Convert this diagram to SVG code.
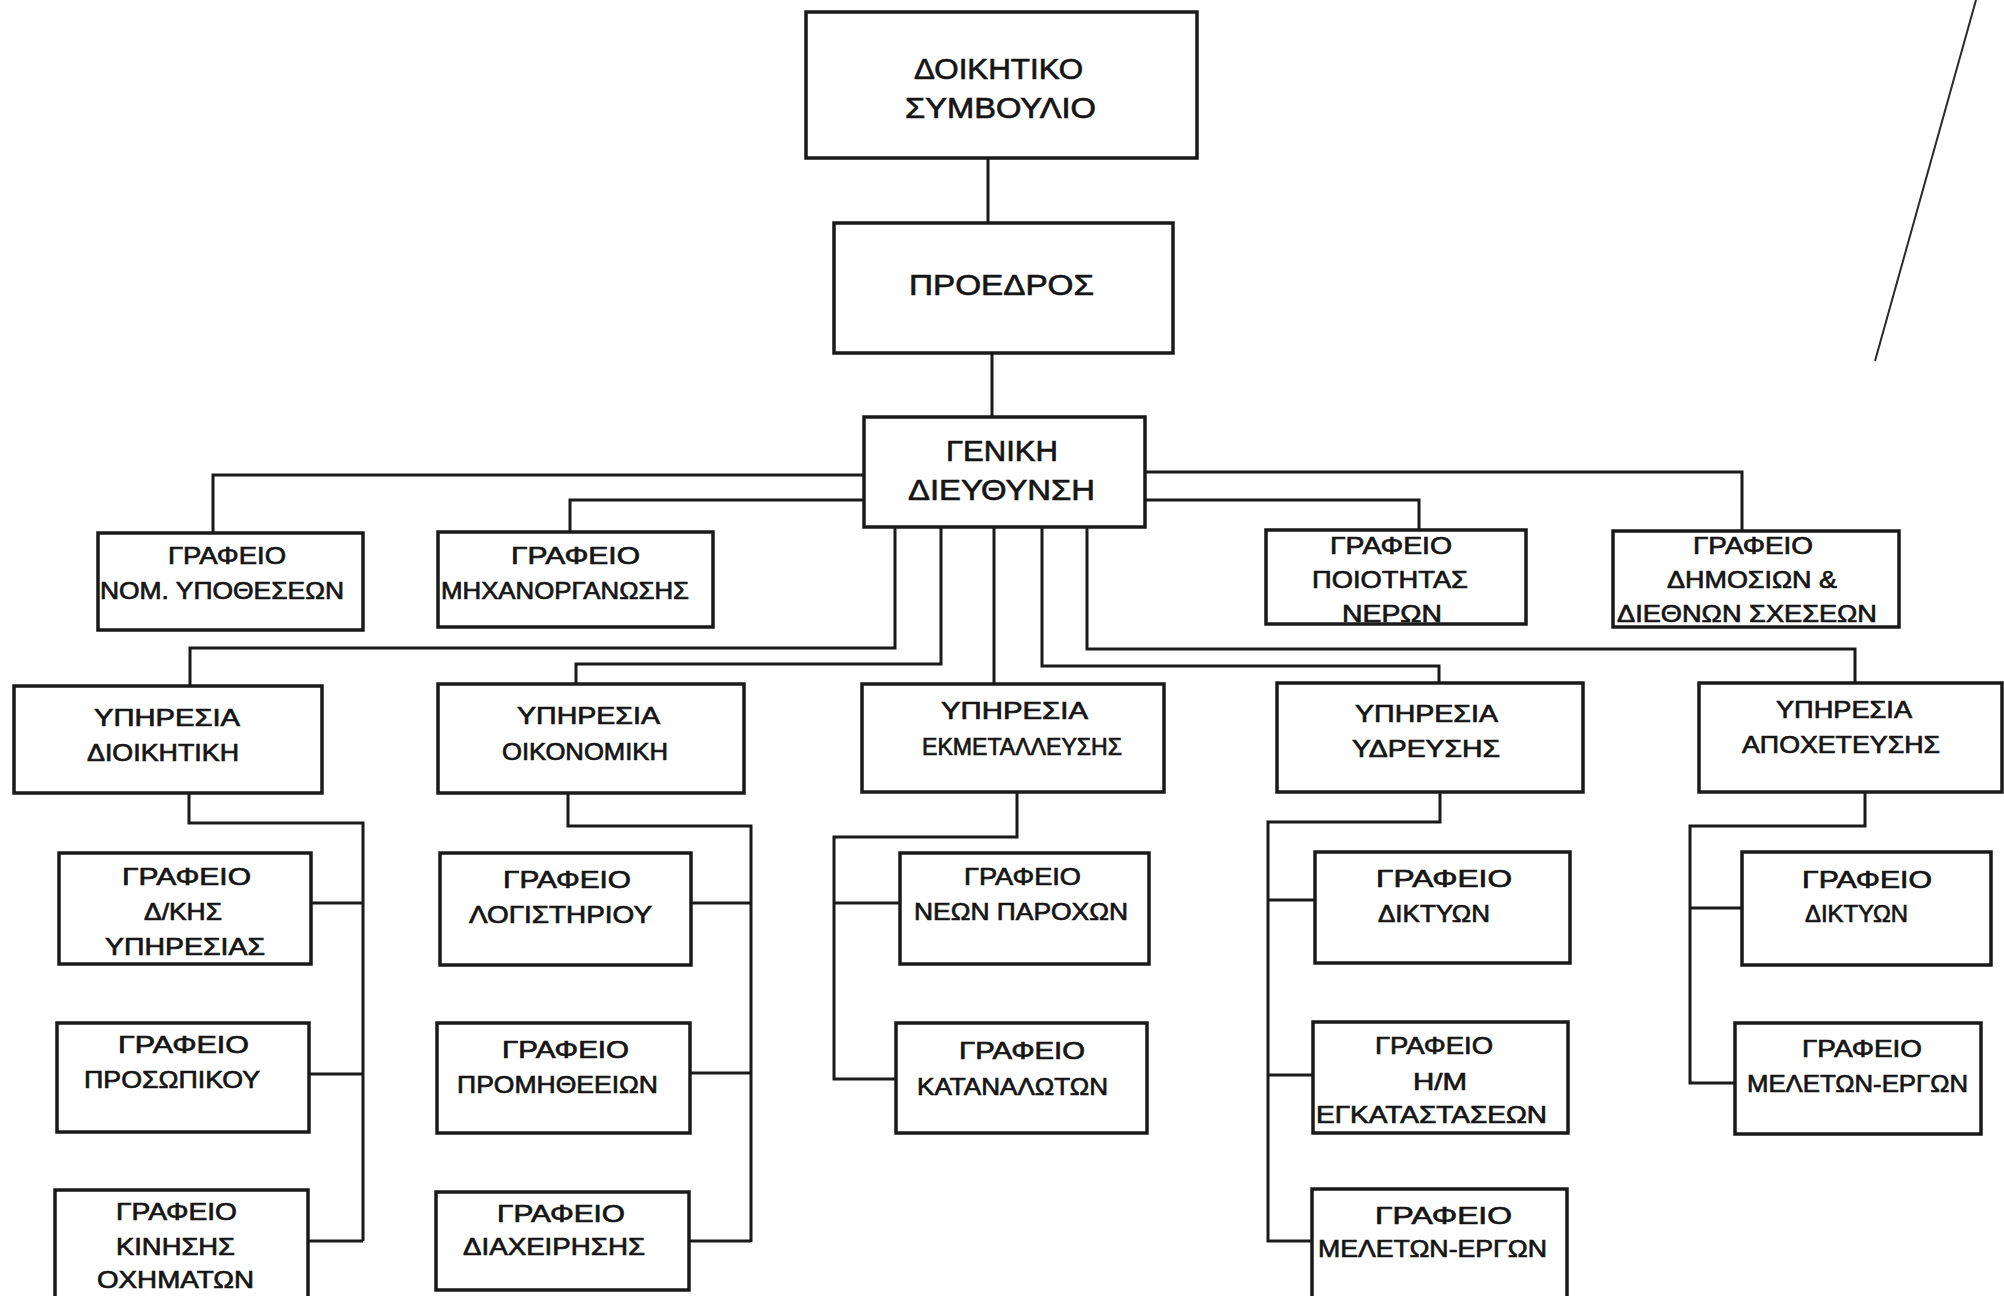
<svg xmlns="http://www.w3.org/2000/svg" width="2004" height="1296" viewBox="0 0 2004 1296">
<style>
.box{fill:none;stroke:#1a1a1a;stroke-width:3.5}
.ln{fill:none;stroke:#1a1a1a;stroke-width:3}
text{font-family:"Liberation Sans",Arial,sans-serif;fill:#151515;stroke:#151515;stroke-width:0.7;text-anchor:middle}
.big{font-size:30px}
.sm{font-size:24px}
</style>
<rect x="0" y="0" width="2004" height="1296" fill="#ffffff"/>
<line x1="1976" y1="0" x2="1875" y2="361" stroke="#2a2a2a" stroke-width="2"/>
<g id="connectors">
<path class="ln" d="M988,158 V223"/>
<path class="ln" d="M992,353 V417"/>
<path class="ln" d="M864,475 H213 V533"/>
<path class="ln" d="M864,500 H570 V532"/>
<path class="ln" d="M1145,472 H1742 V531"/>
<path class="ln" d="M1145,500 H1419 V530"/>
<path class="ln" d="M895,527 V648 H190 V686"/>
<path class="ln" d="M941,527 V664 H576 V684"/>
<path class="ln" d="M994,527 V684"/>
<path class="ln" d="M1042,527 V666 H1439 V683"/>
<path class="ln" d="M1087,527 V649 H1855 V683"/>
<path class="ln" d="M189,793 V823 H363 V1241 M311,903 H363 M309,1074 H363 M308,1241 H363"/>
<path class="ln" d="M568,793 V826 H751 V1242 M691,903 H751 M690,1073 H751 M689,1241 H751"/>
<path class="ln" d="M1017,792 V837 H834 V1079 H896 M834,903 H900"/>
<path class="ln" d="M1440,792 V822 H1268 V1241 H1312 M1268,900 H1315 M1268,1075 H1313"/>
<path class="ln" d="M1865,792 V826 H1690 V1083 H1735 M1690,908 H1742"/>
</g>
<g id="n-dioikitiko">
<rect class="box" x="806" y="12" width="391" height="146"/>
<text class="big" x="998.5" y="79" textLength="169" lengthAdjust="spacingAndGlyphs">ΔΟΙΚΗΤΙΚΟ</text>
<text class="big" x="1000.5" y="118" textLength="191" lengthAdjust="spacingAndGlyphs">ΣΥΜΒΟΥΛΙΟ</text>
</g>
<g id="n-proedros">
<rect class="box" x="834" y="223" width="339" height="130"/>
<text class="big" x="1001.5" y="295" textLength="185" lengthAdjust="spacingAndGlyphs">ΠΡΟΕΔΡΟΣ</text>
</g>
<g id="n-geniki">
<rect class="box" x="864" y="417" width="281" height="110"/>
<text class="big" x="1002" y="461" textLength="112" lengthAdjust="spacingAndGlyphs">ΓΕΝΙΚΗ</text>
<text class="big" x="1001.5" y="500" textLength="187" lengthAdjust="spacingAndGlyphs">ΔΙΕΥΘΥΝΣΗ</text>
</g>
<g id="n-nom">
<rect class="box" x="98" y="533" width="265" height="97"/>
<text class="sm" x="227" y="564" textLength="118" lengthAdjust="spacingAndGlyphs">ΓΡΑΦΕΙΟ</text>
<text class="sm" x="222" y="599" textLength="244" lengthAdjust="spacingAndGlyphs">ΝΟΜ. ΥΠΟΘΕΣΕΩΝ</text>
</g>
<g id="n-mich">
<rect class="box" x="438" y="532" width="275" height="95"/>
<text class="sm" x="575.5" y="564" textLength="129" lengthAdjust="spacingAndGlyphs">ΓΡΑΦΕΙΟ</text>
<text class="sm" x="565" y="599" textLength="248" lengthAdjust="spacingAndGlyphs">ΜΗΧΑΝΟΡΓΑΝΩΣΗΣ</text>
</g>
<g id="n-poiotita">
<rect class="box" x="1266" y="530" width="260" height="94"/>
<text class="sm" x="1391" y="554" textLength="122" lengthAdjust="spacingAndGlyphs">ΓΡΑΦΕΙΟ</text>
<text class="sm" x="1390" y="588" textLength="156" lengthAdjust="spacingAndGlyphs">ΠΟΙΟΤΗΤΑΣ</text>
<text class="sm" x="1392" y="622" textLength="100" lengthAdjust="spacingAndGlyphs">ΝΕΡΩΝ</text>
</g>
<g id="n-dimosion">
<rect class="box" x="1613" y="531" width="286" height="96"/>
<text class="sm" x="1753" y="554" textLength="120" lengthAdjust="spacingAndGlyphs">ΓΡΑΦΕΙΟ</text>
<text class="sm" x="1752" y="588" textLength="170" lengthAdjust="spacingAndGlyphs">ΔΗΜΟΣΙΩΝ &amp;</text>
<text class="sm" x="1747" y="622" textLength="260" lengthAdjust="spacingAndGlyphs">ΔΙΕΘΝΩΝ  ΣΧΕΣΕΩΝ</text>
</g>
<g id="n-dioikitiki">
<rect class="box" x="14" y="686" width="308" height="107"/>
<text class="sm" x="167" y="726" textLength="146" lengthAdjust="spacingAndGlyphs">ΥΠΗΡΕΣΙΑ</text>
<text class="sm" x="163" y="761" textLength="152" lengthAdjust="spacingAndGlyphs">ΔΙΟΙΚΗΤΙΚΗ</text>
</g>
<g id="n-oikonomiki">
<rect class="box" x="438" y="684" width="306" height="109"/>
<text class="sm" x="588.5" y="724" textLength="143" lengthAdjust="spacingAndGlyphs">ΥΠΗΡΕΣΙΑ</text>
<text class="sm" x="585" y="760" textLength="166" lengthAdjust="spacingAndGlyphs">ΟΙΚΟΝΟΜΙΚΗ</text>
</g>
<g id="n-ekmetalleusis">
<rect class="box" x="862" y="684" width="302" height="108"/>
<text class="sm" x="1014.5" y="719" textLength="147" lengthAdjust="spacingAndGlyphs">ΥΠΗΡΕΣΙΑ</text>
<text class="sm" x="1022" y="755" textLength="200" lengthAdjust="spacingAndGlyphs">ΕΚΜΕΤΑΛΛΕΥΣΗΣ</text>
</g>
<g id="n-ydreusis">
<rect class="box" x="1277" y="683" width="306" height="109"/>
<text class="sm" x="1426.5" y="722" textLength="143" lengthAdjust="spacingAndGlyphs">ΥΠΗΡΕΣΙΑ</text>
<text class="sm" x="1426" y="757" textLength="148" lengthAdjust="spacingAndGlyphs">ΥΔΡΕΥΣΗΣ</text>
</g>
<g id="n-apoxeteusis">
<rect class="box" x="1699" y="683" width="303" height="109"/>
<text class="sm" x="1844" y="718" textLength="136" lengthAdjust="spacingAndGlyphs">ΥΠΗΡΕΣΙΑ</text>
<text class="sm" x="1841" y="753" textLength="198" lengthAdjust="spacingAndGlyphs">ΑΠΟΧΕΤΕΥΣΗΣ</text>
</g>
<g id="n-dkis">
<rect class="box" x="59" y="853" width="252" height="111"/>
<text class="sm" x="186.5" y="885" textLength="129" lengthAdjust="spacingAndGlyphs">ΓΡΑΦΕΙΟ</text>
<text class="sm" x="183" y="920" textLength="78" lengthAdjust="spacingAndGlyphs">Δ/ΚΗΣ</text>
<text class="sm" x="185" y="955" textLength="160" lengthAdjust="spacingAndGlyphs">ΥΠΗΡΕΣΙΑΣ</text>
</g>
<g id="n-prosopikou">
<rect class="box" x="57" y="1023" width="252" height="109"/>
<text class="sm" x="183.5" y="1053" textLength="131" lengthAdjust="spacingAndGlyphs">ΓΡΑΦΕΙΟ</text>
<text class="sm" x="172" y="1088" textLength="176" lengthAdjust="spacingAndGlyphs">ΠΡΟΣΩΠΙΚΟΥ</text>
</g>
<g id="n-kinisis">
<rect class="box" x="55" y="1190" width="253" height="120"/>
<text class="sm" x="176.5" y="1220" textLength="121" lengthAdjust="spacingAndGlyphs">ΓΡΑΦΕΙΟ</text>
<text class="sm" x="175.5" y="1255" textLength="119" lengthAdjust="spacingAndGlyphs">ΚΙΝΗΣΗΣ</text>
<text class="sm" x="175.5" y="1288" textLength="157" lengthAdjust="spacingAndGlyphs">ΟΧΗΜΑΤΩΝ</text>
</g>
<g id="n-logistiriou">
<rect class="box" x="440" y="853" width="251" height="112"/>
<text class="sm" x="567" y="888" textLength="128" lengthAdjust="spacingAndGlyphs">ΓΡΑΦΕΙΟ</text>
<text class="sm" x="560.5" y="923" textLength="183" lengthAdjust="spacingAndGlyphs">ΛΟΓΙΣΤΗΡΙΟΥ</text>
</g>
<g id="n-promitheion">
<rect class="box" x="437" y="1023" width="253" height="110"/>
<text class="sm" x="565.5" y="1058" textLength="127" lengthAdjust="spacingAndGlyphs">ΓΡΑΦΕΙΟ</text>
<text class="sm" x="557.5" y="1093" textLength="201" lengthAdjust="spacingAndGlyphs">ΠΡΟΜΗΘΕΕΙΩΝ</text>
</g>
<g id="n-diaxeirisis">
<rect class="box" x="436" y="1192" width="253" height="98"/>
<text class="sm" x="561" y="1222" textLength="128" lengthAdjust="spacingAndGlyphs">ΓΡΑΦΕΙΟ</text>
<text class="sm" x="554" y="1255" textLength="182" lengthAdjust="spacingAndGlyphs">ΔΙΑΧΕΙΡΗΣΗΣ</text>
</g>
<g id="n-neon-paroxon">
<rect class="box" x="900" y="853" width="249" height="111"/>
<text class="sm" x="1022.5" y="885" textLength="117" lengthAdjust="spacingAndGlyphs">ΓΡΑΦΕΙΟ</text>
<text class="sm" x="1021" y="920" textLength="214" lengthAdjust="spacingAndGlyphs">ΝΕΩΝ  ΠΑΡΟΧΩΝ</text>
</g>
<g id="n-katanaloton">
<rect class="box" x="896" y="1023" width="251" height="110"/>
<text class="sm" x="1022" y="1059" textLength="126" lengthAdjust="spacingAndGlyphs">ΓΡΑΦΕΙΟ</text>
<text class="sm" x="1012.5" y="1095" textLength="191" lengthAdjust="spacingAndGlyphs">ΚΑΤΑΝΑΛΩΤΩΝ</text>
</g>
<g id="n-ydr-diktyon">
<rect class="box" x="1315" y="852" width="255" height="111"/>
<text class="sm" x="1444" y="887" textLength="136" lengthAdjust="spacingAndGlyphs">ΓΡΑΦΕΙΟ</text>
<text class="sm" x="1434" y="922" textLength="112" lengthAdjust="spacingAndGlyphs">ΔΙΚΤΥΩΝ</text>
</g>
<g id="n-hm">
<rect class="box" x="1313" y="1022" width="255" height="111"/>
<text class="sm" x="1434" y="1054" textLength="118" lengthAdjust="spacingAndGlyphs">ΓΡΑΦΕΙΟ</text>
<text class="sm" x="1440" y="1090" textLength="54" lengthAdjust="spacingAndGlyphs">Η/Μ</text>
<text class="sm" x="1431.5" y="1123" textLength="231" lengthAdjust="spacingAndGlyphs">ΕΓΚΑΤΑΣΤΑΣΕΩΝ</text>
</g>
<g id="n-ydr-meleton">
<rect class="box" x="1312" y="1189" width="255" height="120"/>
<text class="sm" x="1443.5" y="1224" textLength="137" lengthAdjust="spacingAndGlyphs">ΓΡΑΦΕΙΟ</text>
<text class="sm" x="1432.5" y="1257" textLength="229" lengthAdjust="spacingAndGlyphs">ΜΕΛΕΤΩΝ-ΕΡΓΩΝ</text>
</g>
<g id="n-apo-diktyon">
<rect class="box" x="1742" y="852" width="249" height="113"/>
<text class="sm" x="1867" y="888" textLength="130" lengthAdjust="spacingAndGlyphs">ΓΡΑΦΕΙΟ</text>
<text class="sm" x="1856.5" y="922" textLength="103" lengthAdjust="spacingAndGlyphs">ΔΙΚΤΥΩΝ</text>
</g>
<g id="n-apo-meleton">
<rect class="box" x="1735" y="1023" width="246" height="111"/>
<text class="sm" x="1862" y="1057" textLength="120" lengthAdjust="spacingAndGlyphs">ΓΡΑΦΕΙΟ</text>
<text class="sm" x="1857.5" y="1092" textLength="221" lengthAdjust="spacingAndGlyphs">ΜΕΛΕΤΩΝ-ΕΡΓΩΝ</text>
</g>
</svg>
